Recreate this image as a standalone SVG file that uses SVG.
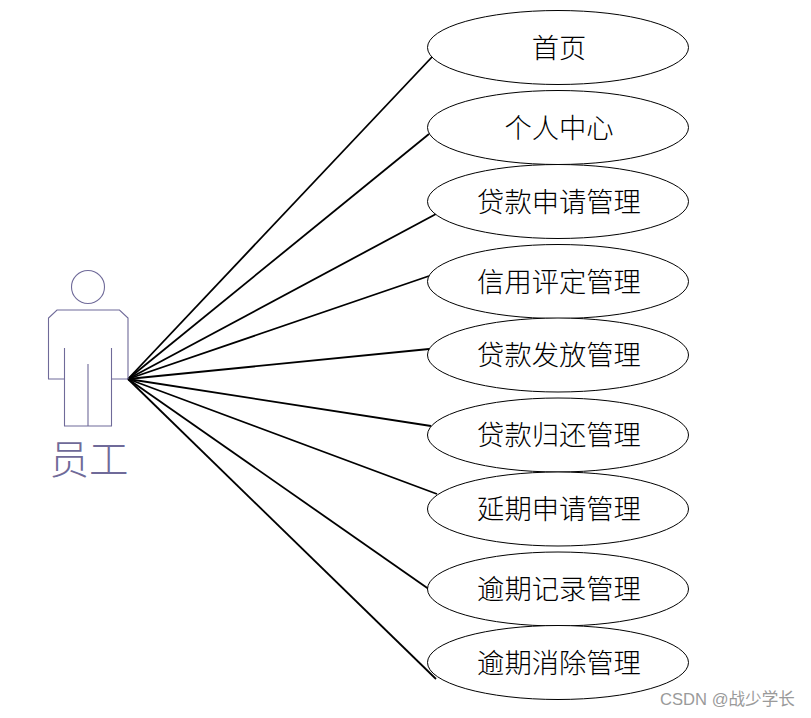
<svg xmlns="http://www.w3.org/2000/svg" width="811" height="718" viewBox="0 0 811 718">
<style>
.bg{fill:#fff}
.e{fill:#fff;stroke:#000;stroke-width:1}
.t{font-family:"Noto Sans CJK SC","Noto Sans CJK JP",serif;font-size:27.300px;fill:#000;text-anchor:middle;font-weight:300}
.c line{stroke:#000;stroke-width:1.800}
.a{fill:none;stroke:#6f6a99;stroke-width:1.100}
.al{font-family:"Noto Sans CJK SC",serif;font-size:39.500px;fill:#6f6a99;text-anchor:middle;font-weight:300}
.w{font-family:"Liberation Sans","Noto Sans CJK SC",sans-serif;font-size:16.600px;fill:#9a9a9a}
</style>
<rect class="bg" width="811" height="718"/>
<g id="connectors" class="c">
<line x1="128" y1="379" x2="432" y2="57"/>
<line x1="128" y1="379" x2="429" y2="134"/>
<line x1="128" y1="379" x2="436" y2="214"/>
<line x1="128" y1="379" x2="429" y2="276"/>
<line x1="128" y1="379" x2="429" y2="349"/>
<line x1="128" y1="379" x2="431" y2="426"/>
<line x1="128" y1="379" x2="437" y2="494"/>
<line x1="128" y1="379" x2="433" y2="592"/>
<line x1="128" y1="379" x2="436" y2="679"/>
</g>
<g id="actor">
<circle class="a" cx="88" cy="287" r="16.500"/>
<path class="a" d="M128 379V318L119.500 310H57L48.500 318V379H64.500M128 379H111.500M64.500 348V426H111.500V348M88 364V426"/>
<text class="al" x="89" y="474">员工</text>
</g>
<g id="n1"><ellipse class="e" cx="558" cy="47.500" rx="130.500" ry="37"/><text class="t" x="559" y="58">首页</text></g>
<g id="n2"><ellipse class="e" cx="558" cy="127.500" rx="130.500" ry="37"/><text class="t" x="559" y="138">个人中心</text></g>
<g id="n3"><ellipse class="e" cx="558" cy="201.500" rx="130.500" ry="37"/><text class="t" x="559" y="212">贷款申请管理</text></g>
<g id="n4"><ellipse class="e" cx="558" cy="281.500" rx="130.500" ry="37"/><text class="t" x="559" y="292">信用评定管理</text></g>
<g id="n5"><ellipse class="e" cx="558" cy="355" rx="130.500" ry="37"/><text class="t" x="559" y="365">贷款发放管理</text></g>
<g id="n6"><ellipse class="e" cx="558" cy="435" rx="130.500" ry="37"/><text class="t" x="559" y="445">贷款归还管理</text></g>
<g id="n7"><ellipse class="e" cx="558" cy="509" rx="130.500" ry="37"/><text class="t" x="559" y="519">延期申请管理</text></g>
<g id="n8"><ellipse class="e" cx="558" cy="589" rx="130.500" ry="37"/><text class="t" x="559" y="599">逾期记录管理</text></g>
<g id="n9"><ellipse class="e" cx="558" cy="662.500" rx="130.500" ry="37"/><text class="t" x="559" y="673">逾期消除管理</text></g>
<text class="w" x="660" y="705">CSDN @战少学长</text>
</svg>
